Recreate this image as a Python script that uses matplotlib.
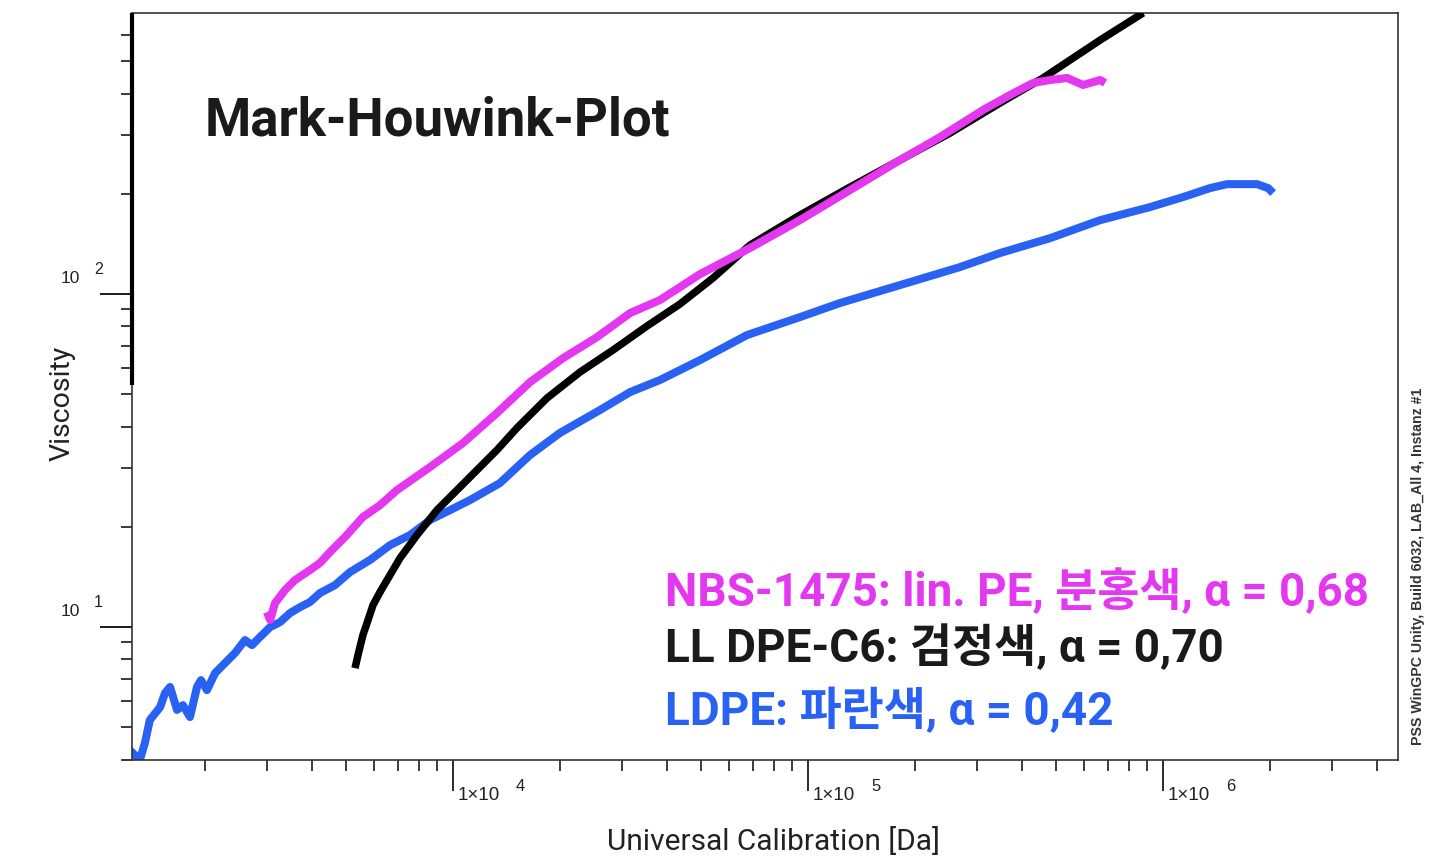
import matplotlib

matplotlib.use("Agg")
import matplotlib.pyplot as plt
from matplotlib.ticker import LogLocator, NullFormatter

plt.rcParams.update({"font.family": ["Roboto", "Noto Sans CJK KR", "DejaVu Sans"]})

# Mark-Houwink data: molar mass from universal calibration [Da] vs intrinsic viscosity
ldpe_mass = [1230, 1312, 1356, 1400, 1496, 1545, 1596, 1670, 1735, 1816, 1901, 1950,
             2028, 2138, 2280, 2432, 2594, 2716, 2858, 3055, 3258, 3475, 3707, 3954,
             4218, 4653, 5129, 5836, 6651, 7568, 8610, 9817, 11170, 13550, 16480,
             20000, 25940, 31550, 38280, 49660, 67300, 94900, 123000, 181600, 268000,
             347500, 480800, 665300, 918400, 1138000, 1356000, 1514000, 1840000,
             1977000, 2042000]
ldpe_visc = [4.27, 3.99, 4.49, 5.26, 5.75, 6.34, 6.61, 5.64, 5.83, 5.37, 6.61, 6.93,
             6.47, 7.28, 7.80, 8.36, 9.14, 8.83, 9.33, 10.0, 10.35, 11.02, 11.48, 11.89,
             12.65, 13.37, 14.63, 15.90, 17.63, 18.90, 20.96, 22.46, 24.07, 27.06, 32.85,
             38.27, 44.85, 50.78, 55.19, 63.36, 75.29, 85.26, 93.97, 106.4, 120.5,
             132.8, 147.2, 166.7, 182.4, 195.5, 208.0, 213.8, 213.8, 208.0, 201.0]

nbs_mass = [2992, 3055, 3152, 3363, 3589, 3954, 4218, 4504, 4963, 5575, 6230, 6955,
            8610, 10670, 13300, 16480, 20420, 25450, 31550, 38280, 49660, 68660,
            94900, 131300, 181600, 235500, 311200, 370700, 430400, 480800, 536800,
            595400, 665300, 686700]
nbs_visc = [11.09, 10.50, 11.80, 12.92, 13.84, 14.83, 15.57, 16.80, 18.64, 21.40,
            23.24, 25.79, 30.22, 35.70, 43.93, 54.40, 64.22, 74.25, 87.70, 95.94,
            114.8, 137.5, 166.7, 205.2, 252.6, 296.1, 357.0, 396.0, 430.3, 439.2,
            445.4, 424.4, 439.2, 430.3]

lldpe_mass = [5297, 5400, 5575, 5764, 5952, 6230, 6520, 7092, 7920, 9015, 10670,
              13300, 15140, 18400, 22790, 28230, 35180, 43560, 53990, 68660, 94900,
              131300, 181600, 251200, 347500, 459200, 665300, 878900]
lldpe_visc = [7.53, 8.24, 9.46, 10.50, 11.64, 12.74, 13.84, 16.11, 18.90, 22.46,
              26.88, 34.02, 39.61, 48.71, 58.30, 67.89, 80.13, 93.30, 111.7, 140.3,
              172.6, 209.5, 252.6, 304.3, 374.7, 445.4, 579.0, 698.3]

legend_lines = ["NBS-1475: lin. PE, 분홍색, α = 0,68",
                "LL DPE-C6: 검정색, α = 0,70",
                "LDPE: 파란색, α = 0,42"]

MAGENTA = "#E437F0"
BLUE = "#2962F2"
INK = "#1a1a1a"
W, H = 1430, 861

fig = plt.figure(figsize=(W / 100, H / 100), dpi=100)
ax = fig.add_axes([132 / W, 1 - 760 / H, (1398 - 132) / W, (760 - 13) / H])

ax.plot(lldpe_mass, lldpe_visc, color="black", lw=5.4, solid_capstyle="butt", zorder=3)
ax.plot(nbs_mass, nbs_visc, color=MAGENTA, lw=5.8, solid_capstyle="butt", zorder=4)
ax.plot(ldpe_mass, ldpe_visc, color=BLUE, lw=5.8, solid_capstyle="butt", zorder=2)

ax.set_xscale("log")
ax.set_yscale("log")
ax.set_xlim(1247, 4.59e6)
ax.set_ylim(3.99, 698)

# axis frame: thin box, heavy stroke on the upper part of the left axis
for side in ("top", "right", "bottom", "left"):
    ax.spines[side].set_linewidth(1.2)
    ax.spines[side].set_color("#333333")
ax.plot([0, 0], [0.502, 1.0], transform=ax.transAxes, color="black", lw=3.0,
        clip_on=False, solid_capstyle="butt", zorder=5)

ax.xaxis.set_major_locator(LogLocator(base=10, numticks=10))
ax.xaxis.set_minor_locator(LogLocator(base=10, subs=range(2, 10), numticks=20))
ax.yaxis.set_major_locator(LogLocator(base=10, numticks=10))
ax.yaxis.set_minor_locator(LogLocator(base=10, subs=range(2, 10), numticks=20))
ax.xaxis.set_major_formatter(NullFormatter())
ax.xaxis.set_minor_formatter(NullFormatter())
ax.yaxis.set_major_formatter(NullFormatter())
ax.yaxis.set_minor_formatter(NullFormatter())
ax.tick_params(axis="x", which="major", direction="out", length=22, width=1.3, color=INK)
ax.tick_params(axis="x", which="minor", direction="out", length=8, width=1.2, color=INK)
ax.tick_params(axis="y", which="major", direction="out", length=23, width=1.4, color=INK)
ax.tick_params(axis="y", which="minor", direction="out", length=8, width=1.2, color=INK)

# old-style decade labels: "10" with a raised exponent
tick_font = ["Liberation Sans", "DejaVu Sans"]
for exp in (1, 2):
    ax.annotate("10", xy=(0, 10 ** exp), xycoords=("axes fraction", "data"),
                xytext=(-52, 11), textcoords="offset pixels", ha="right", va="baseline",
                fontsize=12.5, family=tick_font, color="#222222")
    ax.annotate(str(exp), xy=(0, 10 ** exp), xycoords=("axes fraction", "data"),
                xytext=(-38, 20), textcoords="offset pixels", ha="left", va="baseline",
                fontsize=11.5, family=tick_font, color="#222222")
for exp in (4, 5, 6):
    ax.annotate("1×10", xy=(10 ** exp, 0), xycoords=("data", "axes fraction"),
                xytext=(5, -40), textcoords="offset pixels", ha="left", va="baseline",
                fontsize=13.5, family=tick_font, color="#222222")
    ax.annotate(str(exp), xy=(10 ** exp, 0), xycoords=("data", "axes fraction"),
                xytext=(63, -31), textcoords="offset pixels", ha="left", va="baseline",
                fontsize=12, family=tick_font, color="#222222")

fig.text(773 / W, 1 - 850 / H, "Universal Calibration [Da]", ha="center",
         va="baseline", fontsize=21.5, color="#222222")
fig.text(76 / W, 1 - 403 / H, "Viscosity", rotation=90, ha="right", va="center",
         fontsize=20.5, color="#222222")

fig.text(205 / W, 1 - 136 / H, "Mark-Houwink-Plot", ha="left", va="baseline",
         fontsize=38, fontweight="bold", color=INK)

for text, color, base in zip(legend_lines, (MAGENTA, INK, BLUE), (606, 662, 725)):
    fig.text(665 / W, 1 - base / H, text, ha="left", va="baseline", fontsize=33,
             fontweight="bold", color=color)

fig.text(1418 / W, 1 - 745 / H, "PSS WinGPC Unity, Build 6032, LAB_All 4, Instanz #1",
         rotation=90, ha="center", va="bottom", fontsize=10.2, fontweight="bold",
         family=tick_font, color="#333333")

fig.savefig("out.png", dpi=100, facecolor="white")
